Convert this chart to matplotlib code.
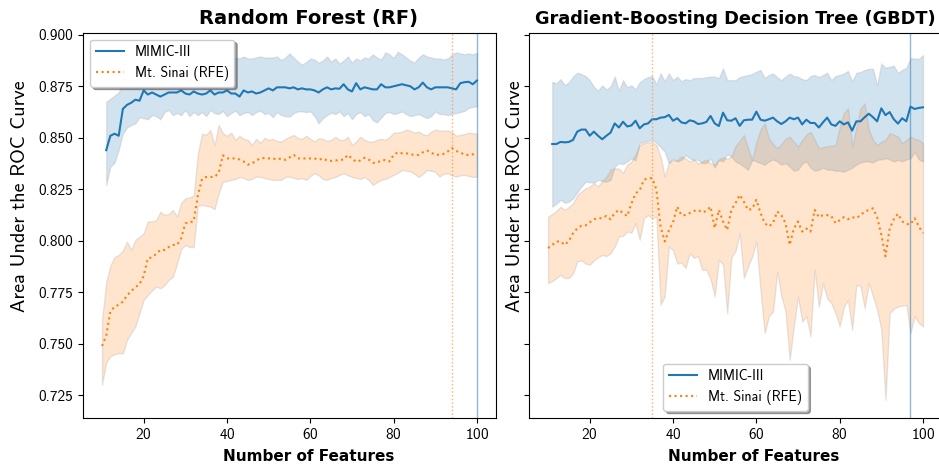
import numpy as np
import matplotlib
matplotlib.use("Agg")
import matplotlib.pyplot as plt

plt.rcParams['font.family'] = ['cmss10', 'DejaVu Sans']
plt.rcParams['axes.formatter.use_mathtext'] = True

# number of features on the x axis: MIMIC-III curves start at 11, Mt. Sinai at 10
mimic_start = 11
sinai_start = 10

# Random Forest, MIMIC-III: mean AUC and band limits
rf_mimic = [0.844, 0.851, 0.852, 0.851, 0.864, 0.866, 0.867, 0.8685, 0.868, 0.873,
            0.871, 0.872, 0.871, 0.870, 0.871, 0.872, 0.872, 0.872, 0.873, 0.8715,
            0.871, 0.8725, 0.8715, 0.871, 0.8715, 0.873, 0.871, 0.872, 0.872, 0.873,
            0.8715, 0.8715, 0.870, 0.873, 0.872, 0.8725, 0.8715, 0.872, 0.873, 0.874,
            0.873, 0.8745, 0.8745, 0.8745, 0.874, 0.8745, 0.8735, 0.874, 0.8735, 0.8735,
            0.873, 0.872, 0.8735, 0.8745, 0.8735, 0.874, 0.8738, 0.876, 0.8735, 0.8725,
            0.8765, 0.8735, 0.8745, 0.874, 0.8735, 0.8735, 0.876, 0.8745, 0.8745, 0.875,
            0.8755, 0.876, 0.8755, 0.875, 0.8735, 0.8745, 0.8768, 0.8745, 0.8735, 0.8745,
            0.8745, 0.8745, 0.8745, 0.874, 0.8735, 0.8765, 0.877, 0.8772, 0.876, 0.8778]
rf_mimic_hi = [0.8675, 0.869, 0.8705, 0.872, 0.877, 0.883, 0.885, 0.8865, 0.8877, 0.887,
               0.887, 0.8875, 0.887, 0.888, 0.8878, 0.888, 0.889, 0.8875, 0.888, 0.8885,
               0.888, 0.8885, 0.8875, 0.8888, 0.888, 0.8885, 0.8875, 0.8885, 0.8885, 0.888,
               0.8885, 0.889, 0.8885, 0.8895, 0.8885, 0.8885, 0.889, 0.8895, 0.889, 0.889,
               0.889, 0.8895, 0.8877, 0.889, 0.891, 0.889, 0.887, 0.8855, 0.8868, 0.8885,
               0.888, 0.8865, 0.8875, 0.8895, 0.887, 0.8885, 0.886, 0.8875, 0.8895, 0.8865,
               0.8885, 0.8875, 0.889, 0.8885, 0.8905, 0.889, 0.888, 0.8915, 0.8905, 0.8888,
               0.8918, 0.8905, 0.889, 0.8875, 0.8865, 0.889, 0.8905, 0.8895, 0.889, 0.8885,
               0.8885, 0.888, 0.8885, 0.8905, 0.8915, 0.891, 0.8905, 0.891, 0.8905, 0.8912]
rf_mimic_lo = [0.827, 0.836, 0.838, 0.844, 0.852, 0.855, 0.8562, 0.857, 0.860, 0.8595,
               0.859, 0.861, 0.8605, 0.859, 0.8625, 0.8635, 0.861, 0.862, 0.861, 0.8635,
               0.8605, 0.8625, 0.861, 0.8625, 0.8605, 0.8635, 0.862, 0.8615, 0.863, 0.8605,
               0.862, 0.8632, 0.861, 0.862, 0.8625, 0.861, 0.8625, 0.8632, 0.8615, 0.862,
               0.860, 0.8625, 0.861, 0.8605, 0.8603, 0.862, 0.8628, 0.8628, 0.8625, 0.8628,
               0.8605, 0.857, 0.8595, 0.861, 0.8622, 0.8615, 0.8628, 0.8605, 0.862, 0.859,
               0.8615, 0.8625, 0.8605, 0.8615, 0.8585, 0.8575, 0.8598, 0.862, 0.8625, 0.8615,
               0.862, 0.8628, 0.8615, 0.8605, 0.861, 0.8615, 0.8605, 0.8595, 0.8605, 0.8628,
               0.8615, 0.8615, 0.861, 0.8615, 0.862, 0.8625, 0.863, 0.8645, 0.865, 0.8652]

# Random Forest, Mt. Sinai (RFE)
rf_sinai = [0.749, 0.754, 0.7657, 0.768, 0.769, 0.7705, 0.7735, 0.7756, 0.7775, 0.779,
            0.783, 0.7915, 0.792, 0.7937, 0.7956, 0.7956, 0.797, 0.798, 0.798, 0.8013,
            0.8085, 0.809, 0.8095, 0.822, 0.830, 0.831, 0.831, 0.831, 0.833, 0.8415,
            0.840, 0.840, 0.840, 0.8395, 0.8385, 0.837, 0.8375, 0.839, 0.840, 0.8402,
            0.840, 0.840, 0.8395, 0.840, 0.8393, 0.8405, 0.8417, 0.840, 0.840, 0.840,
            0.840, 0.840, 0.8393, 0.840, 0.839, 0.8388, 0.839, 0.8392, 0.8395, 0.8417,
            0.840, 0.8384, 0.839, 0.8403, 0.8395, 0.8379, 0.8379, 0.839, 0.8392, 0.8385,
            0.8417, 0.843, 0.8425, 0.8425, 0.842, 0.8417, 0.8417, 0.843, 0.8438, 0.8428,
            0.8418, 0.8418, 0.8422, 0.8434, 0.845, 0.8436, 0.843, 0.8417, 0.8417, 0.842,
            0.8428]
rf_sinai_hi = [0.7617, 0.780, 0.788, 0.7921, 0.7932, 0.7953, 0.7997, 0.7956, 0.8005, 0.802,
               0.8037, 0.8094, 0.8095, 0.810, 0.8142, 0.8125, 0.813, 0.815, 0.8118, 0.8183,
               0.8207, 0.821, 0.822, 0.8425, 0.852, 0.8515, 0.8538, 0.8465, 0.8562, 0.8522,
               0.851, 0.8525, 0.849, 0.851, 0.8495, 0.849, 0.8465, 0.8495, 0.8475, 0.850,
               0.849, 0.8495, 0.8485, 0.8482, 0.8495, 0.8505, 0.8514, 0.850, 0.8495, 0.851,
               0.8495, 0.8482, 0.8498, 0.8495, 0.8485, 0.849, 0.8505, 0.849, 0.849, 0.8505,
               0.8465, 0.8482, 0.8505, 0.849, 0.8482, 0.8482, 0.849, 0.8495, 0.849, 0.8505,
               0.8525, 0.8525, 0.853, 0.854, 0.8535, 0.8525, 0.853, 0.8518, 0.8512, 0.853,
               0.854, 0.8535, 0.8535, 0.8535, 0.8528, 0.851, 0.8515, 0.8518, 0.8525, 0.8522,
               0.852]
rf_sinai_lo = [0.7302, 0.741, 0.744, 0.745, 0.7455, 0.7455, 0.752, 0.7553, 0.7585, 0.765,
               0.7714, 0.7738, 0.776, 0.7778, 0.777, 0.7785, 0.7811, 0.7825, 0.789, 0.796,
               0.798, 0.797, 0.797, 0.817, 0.8175, 0.817, 0.8166, 0.8154, 0.8231, 0.8287,
               0.829, 0.8296, 0.830, 0.831, 0.8305, 0.8296, 0.830, 0.8312, 0.831, 0.8305,
               0.830, 0.8296, 0.8296, 0.8296, 0.831, 0.8312, 0.8305, 0.830, 0.8305, 0.8296,
               0.8315, 0.8328, 0.8318, 0.830, 0.8296, 0.8305, 0.831, 0.832, 0.8328, 0.8318,
               0.831, 0.8305, 0.830, 0.831, 0.8296, 0.8271, 0.8285, 0.8296, 0.830, 0.831,
               0.832, 0.833, 0.8344, 0.834, 0.8338, 0.8325, 0.831, 0.8325, 0.8344, 0.834,
               0.8335, 0.8312, 0.8325, 0.8328, 0.8318, 0.8312, 0.8318, 0.832, 0.8315, 0.831,
               0.8312]

# Gradient-Boosting Decision Tree, MIMIC-III
gb_mimic = [0.847, 0.847, 0.848, 0.8478, 0.848, 0.849, 0.853, 0.854, 0.854, 0.851,
            0.853, 0.851, 0.8493, 0.851, 0.8525, 0.857, 0.855, 0.8578, 0.8555, 0.856,
            0.8583, 0.8546, 0.8565, 0.857, 0.859, 0.859, 0.8598, 0.860, 0.8611, 0.8583,
            0.8595, 0.8575, 0.857, 0.8585, 0.858, 0.8567, 0.857, 0.8577, 0.8606, 0.857,
            0.8557, 0.8622, 0.8585, 0.8583, 0.8595, 0.8558, 0.8585, 0.8588, 0.8588, 0.8627,
            0.8588, 0.8583, 0.859, 0.8598, 0.858, 0.8567, 0.858, 0.8598, 0.859, 0.8598,
            0.8565, 0.8588, 0.8572, 0.8572, 0.855, 0.8575, 0.8598, 0.8565, 0.8558, 0.858,
            0.8565, 0.8575, 0.8535, 0.858, 0.858, 0.860, 0.8617, 0.860, 0.858, 0.8643,
            0.861, 0.8625, 0.859, 0.8569, 0.8595, 0.858, 0.8651, 0.864, 0.8645, 0.8648]
gb_mimic_hi = [0.8772, 0.8765, 0.8785, 0.8756, 0.877, 0.8797, 0.8816, 0.881, 0.880, 0.878,
               0.8748, 0.8729, 0.8755, 0.8735, 0.875, 0.8797, 0.8729, 0.878, 0.8745, 0.8755,
               0.8735, 0.877, 0.8785, 0.8795, 0.880, 0.876, 0.8813, 0.8775, 0.8813, 0.878,
               0.8797, 0.8775, 0.8785, 0.878, 0.879, 0.879, 0.879, 0.8795, 0.8797, 0.8797,
               0.879, 0.8838, 0.878, 0.878, 0.878, 0.8795, 0.880, 0.8805, 0.881, 0.8821,
               0.8829, 0.879, 0.8805, 0.8812, 0.8795, 0.878, 0.8798, 0.8812, 0.880, 0.8796,
               0.8785, 0.878, 0.880, 0.8805, 0.8795, 0.8805, 0.8816, 0.878, 0.880, 0.8805,
               0.8812, 0.8825, 0.8775, 0.8816, 0.882, 0.8829, 0.8835, 0.8835, 0.8756, 0.8861,
               0.884, 0.8845, 0.885, 0.8815, 0.883, 0.884, 0.8886, 0.8885, 0.8883, 0.8902]
gb_mimic_lo = [0.8166, 0.818, 0.8199, 0.8185, 0.819, 0.8207, 0.8235, 0.8263, 0.8287, 0.8285,
               0.8282, 0.8296, 0.829, 0.8287, 0.8296, 0.836, 0.8377, 0.8372, 0.8385, 0.8401,
               0.839, 0.8474, 0.848, 0.8485, 0.849, 0.8475, 0.8455, 0.8433, 0.8377, 0.840,
               0.8385, 0.8393, 0.8416, 0.840, 0.8393, 0.8393, 0.8377, 0.8377, 0.840, 0.8355,
               0.8393, 0.8385, 0.842, 0.8409, 0.8385, 0.8375, 0.836, 0.8345, 0.8393, 0.8385,
               0.8377, 0.8369, 0.8385, 0.8395, 0.8385, 0.837, 0.8377, 0.836, 0.834, 0.8345,
               0.8375, 0.8385, 0.8355, 0.834, 0.8345, 0.8355, 0.8345, 0.8345, 0.834, 0.834,
               0.8335, 0.8345, 0.8355, 0.837, 0.838, 0.8385, 0.8385, 0.838, 0.8393, 0.8395,
               0.8401, 0.8395, 0.8385, 0.8393, 0.8385, 0.8395, 0.8401, 0.843, 0.8395, 0.8385]

# Gradient-Boosting Decision Tree, Mt. Sinai (RFE)
gb_sinai = [0.7965, 0.798, 0.7997, 0.7997, 0.798, 0.800, 0.8037, 0.806, 0.8073, 0.8075,
            0.809, 0.8105, 0.811, 0.811, 0.8121, 0.8105, 0.8135, 0.815, 0.8135, 0.812,
            0.818, 0.823, 0.8245, 0.8296, 0.8304, 0.8304, 0.825, 0.807, 0.7997, 0.805,
            0.8089, 0.8166, 0.8125, 0.8125, 0.8135, 0.8145, 0.815, 0.8138, 0.8145, 0.8166,
            0.8062, 0.815, 0.8094, 0.8053, 0.815, 0.8183, 0.8223, 0.819, 0.815, 0.8155,
            0.8199, 0.8135, 0.8086, 0.807, 0.8086, 0.8142, 0.8125, 0.8086, 0.798, 0.806,
            0.8094, 0.8045, 0.806, 0.8045, 0.815, 0.8115, 0.8125, 0.8125, 0.812, 0.8086,
            0.810, 0.8115, 0.8105, 0.8115, 0.811, 0.8125, 0.8142, 0.815, 0.8158, 0.8115,
            0.803, 0.7925, 0.806, 0.8105, 0.8131, 0.8095, 0.8082, 0.808, 0.811, 0.807,
            0.8037]
gb_sinai_hi = [0.8118, 0.813, 0.8145, 0.8166, 0.815, 0.8165, 0.8183, 0.822, 0.824, 0.8255,
               0.8263, 0.828, 0.8265, 0.829, 0.8312, 0.8345, 0.8352, 0.835, 0.833, 0.837,
               0.8384, 0.842, 0.8465, 0.8474, 0.8478, 0.8478, 0.8465, 0.8409, 0.8312, 0.838,
               0.8393, 0.839, 0.8409, 0.840, 0.8385, 0.8395, 0.8375, 0.8385, 0.8395, 0.8377,
               0.837, 0.8395, 0.8405, 0.8398, 0.8409, 0.846, 0.8485, 0.8514, 0.845, 0.8393,
               0.848, 0.854, 0.857, 0.8498, 0.847, 0.845, 0.847, 0.8495, 0.8506, 0.848,
               0.8457, 0.849, 0.8515, 0.853, 0.849, 0.845, 0.8455, 0.846, 0.8462, 0.8465,
               0.855, 0.862, 0.8643, 0.8457, 0.855, 0.8643, 0.8667, 0.8538, 0.849, 0.8465,
               0.848, 0.849, 0.8522, 0.8515, 0.8506, 0.8474, 0.849, 0.8506, 0.8495, 0.849,
               0.8474]
gb_sinai_lo = [0.7795, 0.7805, 0.7819, 0.7835, 0.7819, 0.782, 0.7843, 0.790, 0.7905, 0.789,
               0.7885, 0.7905, 0.792, 0.7932, 0.7926, 0.794, 0.7973, 0.8021, 0.8025, 0.8045,
               0.804, 0.8086, 0.8005, 0.811, 0.8125, 0.811, 0.8118, 0.769, 0.773, 0.7972,
               0.7955, 0.789, 0.7895, 0.7868, 0.794, 0.7918, 0.7925, 0.7859, 0.786, 0.7815,
               0.773, 0.7908, 0.7885, 0.7649, 0.792, 0.795, 0.8037, 0.7819, 0.7875, 0.7924,
               0.7997, 0.776, 0.7553, 0.7634, 0.7657, 0.7851, 0.773, 0.766, 0.7423, 0.7585,
               0.773, 0.7609, 0.7634, 0.7537, 0.7859, 0.7681, 0.7794, 0.772, 0.7698, 0.765,
               0.7585, 0.768, 0.7714, 0.7569, 0.7787, 0.778, 0.7674, 0.7795, 0.773, 0.7666,
               0.7569, 0.7229, 0.765, 0.767, 0.7682, 0.7685, 0.769, 0.7553, 0.7634, 0.7602,
               0.7585]

# best feature counts (vertical markers)
rf_best = {'mimic': 100, 'sinai': 94}
gb_best = {'mimic': 97, 'sinai': 35}

titles = ['Random Forest (RF)', 'Gradient-Boosting Decision Tree (GBDT)']
legend_locs = ['upper left', 'lower center']

blue = '#1f77b4'
orange = '#ff7f0e'

fig = plt.figure(figsize=(9.39, 4.70), dpi=100)
ax1 = fig.add_axes([0.0887, 0.1113, 0.4392, 0.8191])
ax2 = fig.add_axes([0.5637, 0.1113, 0.4392, 0.8191], sharey=ax1)

panels = [
    (ax1, rf_mimic, rf_mimic_lo, rf_mimic_hi, rf_sinai, rf_sinai_lo, rf_sinai_hi, rf_best),
    (ax2, gb_mimic, gb_mimic_lo, gb_mimic_hi, gb_sinai, gb_sinai_lo, gb_sinai_hi, gb_best),
]

title_x = [0.547, 0.4985]
title_size = [14, 12.8]
xlabel_x = [0.547, 0.545]
ylabel_x = [-0.131, -0.013]

for i, (ax, m, m_lo, m_hi, s, s_lo, s_hi, best) in enumerate(panels):
    xm = np.arange(mimic_start, mimic_start + len(m))
    xs = np.arange(sinai_start, sinai_start + len(s))
    ax.plot(xm, m, color=blue, lw=1.5, label='MIMIC-III')
    ax.fill_between(xm, m_lo, m_hi, color=blue, alpha=0.2, edgecolor='0.55', lw=1)
    ax.plot(xs, s, color=orange, lw=1.5, ls=':', label='Mt. Sinai (RFE)')
    ax.fill_between(xs, s_lo, s_hi, color=orange, alpha=0.2, edgecolor='0.55', lw=1)
    ax.axvline(best['mimic'], color=blue, lw=1, alpha=0.5)
    ax.axvline(best['sinai'], color=orange, lw=1, ls=':', alpha=0.6)

    ax.set_title(titles[i], fontsize=title_size[i], fontweight='bold',
                 family='DejaVu Sans', x=title_x[i])
    ax.set_xlabel('Number of Features', fontsize=11, fontweight='bold',
                  family='DejaVu Sans')
    ax.xaxis.set_label_coords(xlabel_x[i], -0.082)
    ax.set_xlim(5.5, 104.5)
    ax.set_xticks([20, 40, 60, 80, 100])
    ax.tick_params(labelsize=11)
    ax.set_ylabel('Area Under the ROC Curve', fontsize=14.5)
    ax.yaxis.set_label_coords(ylabel_x[i], 0.5745)
    ax.legend(loc=legend_locs[i], fontsize=10, shadow=True)

ax1.set_ylim(0.7142, 0.901)
ax1.set_yticks(np.arange(0.725, 0.9001, 0.025))
ax1.yaxis.set_major_formatter(matplotlib.ticker.FormatStrFormatter('%.3f'))
plt.setp(ax2.get_yticklabels(), visible=False)

fig.savefig('out.png', dpi=100)
